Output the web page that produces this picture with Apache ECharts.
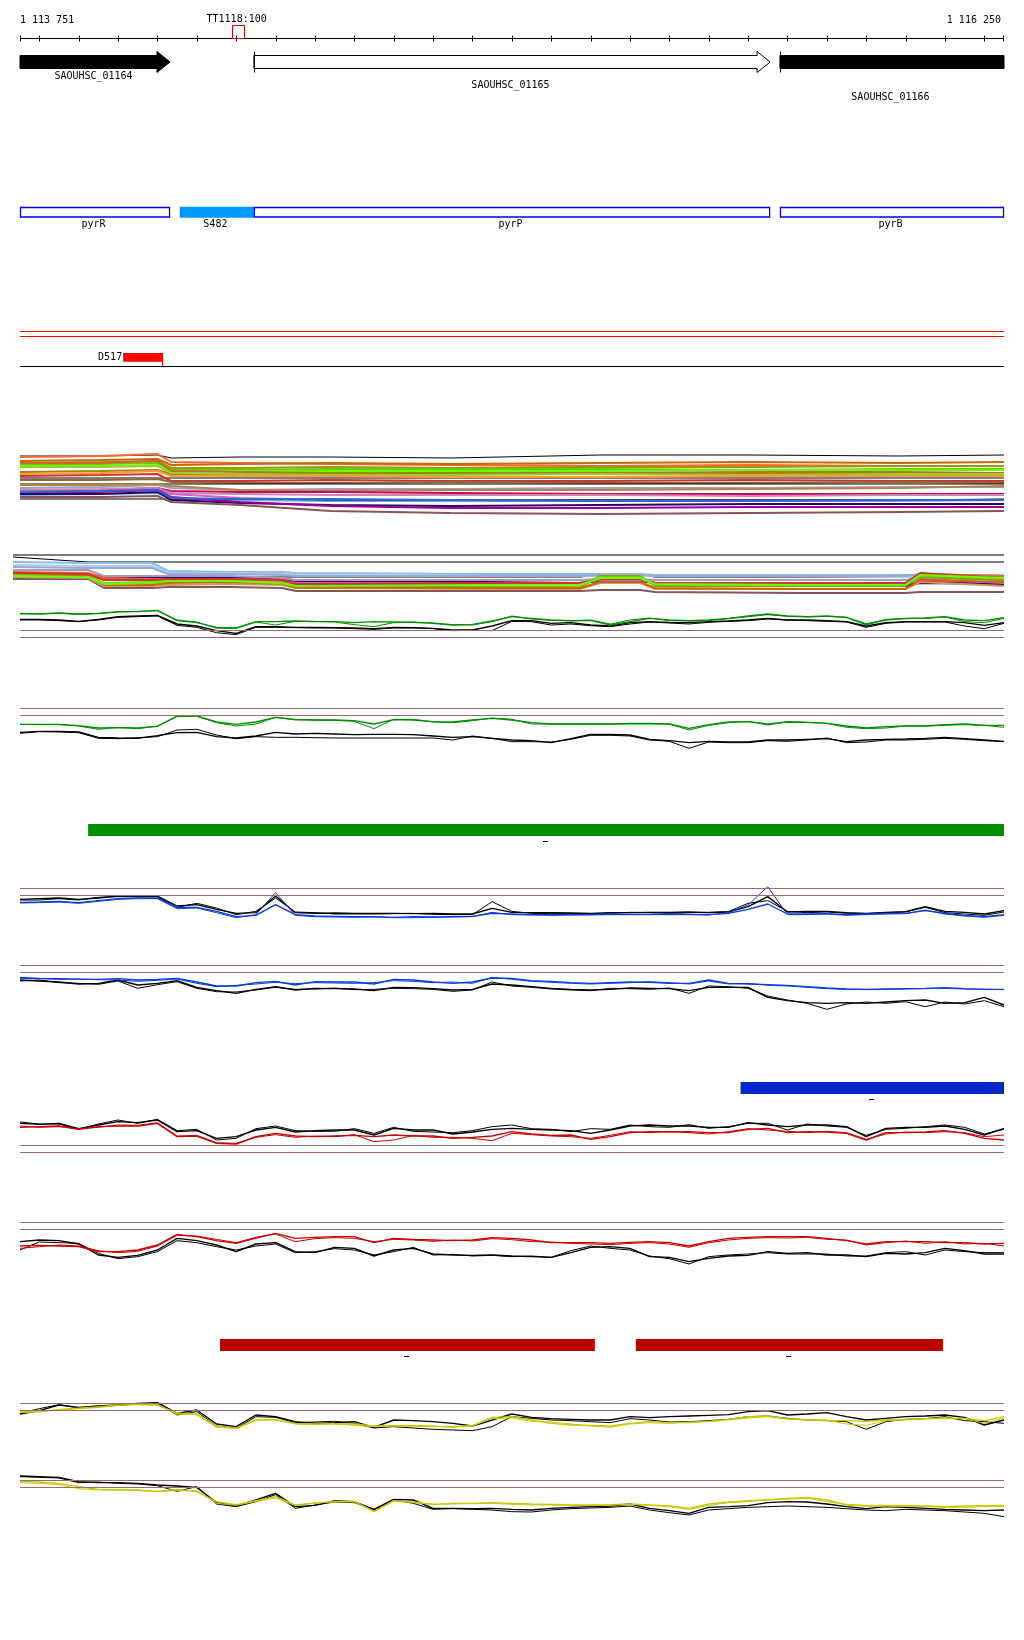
<!DOCTYPE html>
<html><head><meta charset="utf-8">
<script src="https://cdn.jsdelivr.net/npm/echarts@6/dist/echarts.min.js"></script>
<style>html,body{margin:0;padding:0;background:#fff}#c{width:1024px;height:1640px}</style>
</head><body><div id="c"></div><script>
// ---------------- data ----------------
const START = 1113751, END = 1116250;
const rulerTicks = [1113751,1113800,1113900,1114000,1114100,1114200,1114300,1114400,1114500,1114600,1114700,1114800,1114900,1115000,1115100,1115200,1115300,1115400,1115500,1115600,1115700,1115800,1115900,1116000,1116100,1116200,1116250];
const rulerLabels = ['1 113 751','1 116 250'];
const probeName = 'TT1118:100', probePos = 1114305, probeWidth = 30;

const geneNames = ['SAOUHSC_01164','SAOUHSC_01165','SAOUHSC_01166'];
const geneStarts = [1113751, 1114345, 1115681];
const geneEnds = [1114132, 1115656, 1116250];
const geneFilled = [true, false, true];

const annNames = ['pyrR','S482','pyrP','pyrB'];
const annStarts = [1113751, 1114157, 1114345, 1115681];
const annEnds = [1114132, 1114345, 1115656, 1116250];
const annFilled = [false, true, false, false];

const regionName = 'D517', regionStart = 1114013, regionEnd = 1114113;

const greenStarts = [1113924], greenEnds = [1116250];
const blueStarts = [1115581], blueEnds = [1116250];
const redStarts = [1114259, 1115315], redEnds = [1115211, 1116095];

// positions of the signal tracks (every 50 bp)
const pos50 = [1113751,1113800,1113850,1113900,1113950,1114000,1114050,1114100,1114150,1114200,
1114250,1114300,1114350,1114400,1114450,1114500,1114550,1114600,1114650,1114700,
1114750,1114800,1114850,1114900,1114950,1115000,1115050,1115100,1115150,1115200,
1115250,1115300,1115350,1115400,1115450,1115500,1115550,1115600,1115650,1115700,
1115750,1115800,1115850,1115900,1115950,1116000,1116050,1116100,1116150,1116200,1116250];

// multi-sample track 1
const mc1Pos = [1113751,1113955,1114100,1114135,1114310,1114540,1114845,1115225,1115605,1115985,1116250];
const mc1Series = [
[64,64,65,62,63,63,62,65,65,64,65],
[63,64,66,58,57,56,55,54,55,54,54],
[59,60,61,55,56,57,56,57,58,57,58],
[57,58,59,52,52,53,52,53,53,54,54],
[55,56,57,50,50,51,51,51,50,51,51],
[54,54,55,48,49,49,49,49,50,50,50],
[57,57,59,49,48,47,47,47,48,48,47],
[48,49,50,46,46,47,47,46,46,47,46],
[53,53,54,47,46,45,45,46,45,46,46],
[42,42,42,42,42,42,42,42,42,42,42],
[46,47,49,44,44,44,43,43,44,44,44],
[44,45,46,39,39,40,39,39,40,39,39],
[40,40,41,38,37,37,38,37,37,38,37],
[36,36,36,36,36,36,36,36,36,36,36],
[32,33,35,32,30,31,31,32,32,33,33],
[35,35,36,34,30,29,30,30,31,32,34],
[30,30,32,29,28,28,27,26,26,26,26],
[30,31,32,27,26,25,25,25,24,25,25],
[29,29,31,26,22,20,20,20,20,20,20],
[25,26,27,21,20,19,19,19,19,19,20],
[21,21,21,21,21,20,20,20,20,20,21],
[26,26,28,20,17,15,14,15,16,16,16],
[28,28,30,23,18,14,12,12,13,13,13],
[23,23,24,18,15,9,7,6,7,8,9],
[28,29,30,22,21,21,20,19,19,20,20]];

// multi-sample track 2
const mc2Pos = [1113733,1113924,1113964,1114086,1114127,1114284,1114416,1114452,1114919,1115173,1115224,1115326,1115364,1115732,1115999,1116037,1116250];
const mc2Series = [
[45,45,45,45,45,45,45,45,45,45,45,45,45,45,45,45,45],
[43,38,38,38,38,38,38,38,38,38,38,38,38,38,38,38,38],
[24,24,23,23,23,23,23,23,23,23,25,25,23,23,23,26,23],
[38,37,37,37,29,28,28,27,26,26,26,26,25,25,25,25,25],
[35,34,34,34,27,27,26,25,24,24,24,24,24,24,23,23,23],
[33,32,32,32,26,26,25,24,24,24,25,25,24,24,24,26,24],
[25,25,22,22,22,22,20,16,16,16,20,20,17,16,15,18,17],
[26,26,23,23,23,23,21,18,18,17,19,19,17,15,14,17,16],
[30,30,24,24,24,24,22,20,20,20,21,21,20,20,20,22,20],
[24,24,21,21,21,21,20,17,17,17,20,20,17,17,17,21,17],
[21,21,12,12,13,13,12,9,9,9,10,10,8,7,7,8,8],
[23,22,14,14,15,16,15,12,11,11,17,17,11,11,11,18,14],
[28,27,22,21,20,20,19,14,14,15,22,22,16,16,16,26,24],
[26,25,16,16,18,18,16,12,12,13,24,24,14,14,14,23,20],
[25,24,17,18,20,20,16,14,14,15,23,23,15,15,15,24,22],
[27,26,20,20,21,21,20,16,17,17,21,21,17,17,17,27,22],
[24,24,15,15,17,18,17,13,12,12,18,18,12,11,11,20,18],
[24,23,16,17,19,19,17,14,15,15,22,22,16,15,15,25,22]];

// panel 2 (green / black)
const p2Green1 = [95,93,96,93,95,100,100,104,73,67,53,51,70,70,72,70,70,67,70,69,68,65,60,62,72,85,80,75,73,74,60,70,80,75,73,75,80,87,93,87,85,87,83,63,75,80,81,85,75,73,82];
const p2Green2 = [93,94,95,92,94,99,101,103,75,69,50,50,69,60,71,71,69,61,55,67,69,66,61,60,70,87,78,74,72,75,63,75,81,73,72,73,79,85,91,86,84,86,83,60,77,79,80,84,70,67,80];
const p2Black1 = [77,77,75,71,77,85,87,89,63,57,43,35,55,55,53,53,52,51,49,53,52,50,45,45,57,73,73,65,67,60,57,67,70,68,67,70,72,75,80,75,75,73,70,57,67,70,70,70,67,59,67];
const p2Black2 = [75,75,73,70,75,83,85,87,59,53,37,31,53,53,52,51,51,49,47,51,51,49,43,44,43,71,70,60,63,58,55,63,69,66,63,68,71,73,78,75,73,71,69,53,65,69,69,69,57,49,65];
const p2Refs = [45, 23];

// panel 3 (green / black)
const p3Green1 = [101,101,101,97,90,91,90,95,126,126,108,101,108,122,116,114,114,112,102,115,114,109,108,114,119,114,106,102,102,102,102,104,104,102,89,100,108,109,102,108,107,104,96,90,94,96,96,100,102,98,98];
const p3Green2 = [101,100,100,96,86,92,88,96,124,126,106,96,102,122,114,114,113,110,88,116,116,108,106,112,120,116,102,102,101,102,102,102,102,102,84,98,106,110,99,109,107,104,92,88,90,96,96,98,100,98,92];
const p3Black1 = [77,80,80,78,62,60,59,67,76,77,64,60,66,77,72,74,72,70,71,71,70,66,62,64,59,54,52,46,58,71,71,69,56,52,46,50,48,48,54,54,56,58,49,54,56,57,59,62,58,54,50];
const p3Black2 = [74,79,78,76,59,58,61,64,84,86,69,58,64,62,62,61,60,60,60,60,60,60,54,66,59,49,49,48,56,68,68,66,54,50,29,48,46,46,52,50,54,60,46,48,54,54,56,59,56,52,49];
const p3Refs = [150, 128];

// panel 4 (blue / black)
const p4Black1 = [77,79,81,77,81,87,87,87,57,61,47,35,37,87,37,35,36,35,35,35,34,35,33,33,50,38,37,37,36,35,37,37,38,38,39,37,39,55,85,39,41,41,37,35,38,40,55,41,38,33,43];
const p4Black2 = [75,75,79,75,83,85,85,85,53,65,51,31,41,81,39,37,33,33,33,34,35,32,31,31,70,41,35,34,34,34,35,38,37,35,37,38,40,65,73,41,37,39,35,34,37,39,53,37,33,29,39];
const p4Blue1 = [68,69,71,67,73,79,81,81,53,53,41,25,29,61,31,27,26,25,25,23,25,24,25,26,35,33,31,31,31,32,33,32,32,33,32,31,35,47,63,33,33,34,31,33,35,35,43,35,29,25,31];
const p4Blue2 = [66,67,69,65,71,77,79,79,49,51,37,22,31,97,29,25,24,23,24,22,22,23,24,25,38,31,30,29,30,30,31,31,31,31,31,30,37,60,115,31,31,33,29,31,33,34,45,33,27,23,29];
const p4Refs = [110, 89];

// panel 5 (blue / black)
const p5Blue1 = [113,110,109,107,107,109,105,107,110,99,87,87,97,101,90,100,99,99,93,107,105,99,95,99,111,110,103,101,97,95,97,99,98,95,95,105,95,93,91,89,85,81,78,77,78,79,80,82,79,77,77];
const p5Blue2 = [110,109,107,108,106,105,101,104,108,95,85,89,93,98,94,97,96,95,97,103,101,97,99,95,113,107,101,98,95,93,95,97,100,97,93,102,93,95,89,87,83,79,77,76,77,78,79,80,78,77,76];
const p5Black1 = [105,102,99,93,95,105,90,95,103,83,73,65,77,85,75,80,79,78,73,83,82,79,75,77,93,90,85,80,77,75,77,81,80,79,73,83,83,83,53,43,37,35,37,35,39,43,45,35,37,53,30];
const p5Black2 = [102,105,97,95,92,102,80,91,100,80,70,69,75,83,77,78,81,76,77,80,79,77,71,75,99,87,83,78,75,73,80,79,77,81,65,87,85,80,57,45,35,17,33,39,35,40,25,39,33,43,25];
const p5Refs = [149, 128];

// panel 6 (red / black)
const p6Black1 = [110,107,110,94,105,115,112,120,85,88,65,70,90,98,84,88,90,90,75,95,90,90,78,84,92,95,92,90,88,80,90,102,105,102,102,98,98,112,105,100,105,105,100,70,95,98,98,102,92,75,95];
const p6Black2 = [114,108,108,92,108,120,110,122,88,92,60,65,94,102,88,86,86,94,80,98,86,84,82,88,100,105,94,92,85,94,92,105,100,98,106,95,100,110,110,90,108,102,98,74,92,95,100,105,98,78,92];
const p6Red1 = [98,100,102,92,100,102,102,110,70,72,50,48,70,80,72,70,72,74,70,75,72,72,65,68,72,85,78,74,75,62,70,82,85,84,85,82,82,92,95,82,85,84,80,60,82,82,84,88,80,65,60];
const p6Red2 = [102,98,100,94,98,105,104,112,72,74,52,50,68,76,68,72,70,76,55,60,74,68,68,65,58,80,76,72,70,65,74,85,82,86,82,78,85,94,90,86,82,86,82,62,78,84,82,85,82,70,75];
const p6Refs = [44, 23];

// panel 7 (red / black)
const p7Black1 = [85,90,88,78,45,38,44,60,95,88,75,55,78,82,55,52,68,65,42,60,65,48,45,44,45,42,40,38,52,68,70,65,40,38,25,35,42,44,55,50,52,45,45,40,50,48,52,65,58,48,48];
const p7Black2 = [60,84,82,80,50,34,40,55,88,82,70,60,72,78,52,55,64,60,45,55,68,45,47,42,44,40,42,38,58,72,65,60,42,34,18,40,45,48,52,48,48,48,42,42,52,55,45,60,55,52,52];
const p7Red1 = [72,74,72,70,55,55,60,75,107,100,88,80,96,110,95,98,100,100,82,95,92,90,88,90,97,95,90,82,82,82,80,83,85,82,72,85,95,98,100,100,100,95,88,78,85,85,85,82,82,78,80];
const p7Red2 = [65,70,75,72,58,52,56,72,104,102,92,82,98,108,85,94,97,95,85,92,90,86,90,87,94,91,85,84,80,78,76,80,82,78,68,82,90,95,97,96,98,92,90,75,82,87,80,85,78,80,72];
const p7Refs = [144, 122];

// panel 8 (yellow / black)
const p8Black1 = [78,88,105,98,102,105,110,112,80,90,48,40,75,70,55,50,52,55,38,60,58,55,50,42,60,78,68,64,62,60,60,70,67,70,72,74,76,85,88,75,78,82,70,60,65,70,72,75,68,45,60];
const p8Black2 = [80,94,106,96,100,104,108,110,75,85,42,35,70,68,52,54,56,50,36,40,36,32,30,28,40,70,65,60,58,55,52,64,60,54,55,58,62,70,72,65,60,58,55,32,55,62,64,70,58,55,50];
const p8Yellow1 = [84,86,90,94,98,104,107,106,78,78,42,34,60,60,50,48,48,48,42,42,42,40,40,42,68,70,60,50,45,44,42,50,55,52,52,56,62,70,72,64,60,58,58,56,60,62,64,66,65,58,70];
const p8Yellow2 = [82,84,92,96,100,105,106,104,82,75,38,36,62,62,48,46,50,44,40,44,44,42,38,44,64,66,56,54,48,42,38,48,52,50,54,55,60,66,70,62,62,60,48,44,58,60,63,64,64,50,65];
const p8Refs = [110, 89];

// panel 9 (yellow / black)
const p9Black1 = [147,145,143,130,127,127,125,120,117,113,67,57,75,95,55,59,73,70,47,77,75,50,50,49,50,47,45,50,53,55,57,63,50,43,35,53,55,58,67,70,69,63,55,49,55,53,50,47,45,43,45];
const p9Black2 = [145,143,141,127,129,125,123,118,101,115,63,55,70,91,50,60,69,67,45,75,65,47,49,47,45,40,39,45,49,51,53,57,45,37,30,45,49,53,55,57,55,53,49,45,43,47,45,43,39,35,25];
const p9Yellow1 = [131,129,125,115,107,105,105,101,107,100,70,61,73,85,60,65,71,71,41,73,69,61,65,65,67,65,63,62,60,60,61,63,60,57,50,63,69,73,75,80,83,75,60,57,57,57,57,55,57,58,59];
const p9Yellow2 = [127,125,121,109,105,105,103,100,103,103,65,59,71,81,59,67,69,69,40,71,67,63,63,64,65,62,60,60,59,58,59,62,59,55,47,59,67,70,77,77,80,70,62,59,59,59,55,53,53,55,55];
const p9Refs = [134, 113];

// ---------------- styles / layout ----------------
const FONT = '10px "DejaVu Sans Mono", "Liberation Mono", monospace';
const BROWN = '#9c6a6a';
const GREEN = '#008f00', BLUE = '#0a3cdc', RED = '#cc0000', YELLOW = '#c8c800';
const mc1Colors = ['#000000','#ff6633','#cc6600','#999900','#66cc00','#66ff00','#cc6633','#998800','#99cc33','#000000','#ff9933','#cc3333','#996633','#000000','#aa99bb','#aa8844','#cc0066','#cc88aa','#cc66cc','#66aaee','#000000','#330066','#990099','#885555','#3366cc'];
const mc2Colors = ['#000000','#000000','#000000','#88bbee','#aaccff','#99aacc','#990099','#330066','#aa99bb','#cc66cc','#885555','#cc9966','#ff6633','#999900','#66cc00','#cc3333','#cc6600','#66ff00'];
const GENE_LABEL_DY = [28.5, 37, 49.5];

const grids = [], xAxes = [], yAxes = [], series = [];
function addGrid(top, height, ymax, left, xmin) {
  const gi = grids.length;
  grids.push({left: left == null ? 20 : left, right: 20, top, height, show: false});
  xAxes.push({gridIndex: gi, type: 'value', min: xmin == null ? START : xmin, max: END, show: false});
  yAxes.push({gridIndex: gi, type: 'value', min: 0, max: ymax, show: false});
  return gi;
}
function addCustom(gi, data, renderItem) {
  series.push({type: 'custom', xAxisIndex: gi, yAxisIndex: gi, data, renderItem, silent: true, animation: false, z: 3});
}
function addLine(gi, xs, ys, color, width, refs) {
  const s = {type: 'line', xAxisIndex: gi, yAxisIndex: gi, data: xs.map((x, k) => [x, ys[k]]),
    symbol: 'none', showSymbol: false, lineStyle: {color, width}, itemStyle: {color},
    silent: true, animation: false, clip: true, z: 2};
  if (refs) s.markLine = {silent: true, symbol: ['none', 'none'], label: {show: false}, animation: false,
    lineStyle: {color: BROWN, width: 1, type: 'solid'}, emphasis: {disabled: true},
    data: refs.map(v => ({yAxis: v}))};
  series.push(s);
}
function txt(x, y, text, align) {
  return {type: 'text', x, y, style: {text, align: align || 'center', verticalAlign: 'middle', font: FONT, fill: '#000'}};
}
function hline(x1, x2, y, color, w) {
  return {type: 'line', shape: {x1, y1: y, x2, y2: y}, style: {stroke: color, lineWidth: w || 1}};
}

// ruler
const gR = addGrid(10, 40, 1);
addCustom(gR, [[START, END]], (p, api) => {
  const cs = p.coordSys;
  const x0 = api.coord([api.value(0), 0])[0], x1 = api.coord([api.value(1), 0])[0];
  return {type: 'group', children: [
    hline(x0, x1, cs.y + 28.5, '#000'),
    txt(x0, cs.y + 10, rulerLabels[0], 'left'),
    txt(x1 - 3, cs.y + 10, rulerLabels[1], 'right')
  ]};
});
addCustom(gR, rulerTicks.map(t => [t, 0]), (p, api) => {
  const cs = p.coordSys;
  let x = Math.round(api.coord([api.value(0), 0])[0]) + 0.5;
  x = Math.min(Math.max(x, cs.x + 0.5), cs.x + cs.width - 0.5);
  return {type: 'line', shape: {x1: x, y1: cs.y + 25.5, x2: x, y2: cs.y + 31.5}, style: {stroke: '#000', lineWidth: 1}};
});
addCustom(gR, [[probePos, 0]], (p, api) => {
  const cs = p.coordSys;
  const x = api.coord([api.value(0), 0])[0];
  const w = api.size([probeWidth, 0])[0];
  return {type: 'group', children: [
    {type: 'rect', shape: {x: Math.round(x - w / 2) + 0.5, y: cs.y + 15.5, width: Math.round(w), height: 13}, style: {fill: 'none', stroke: '#cc0000', lineWidth: 1}},
    txt(x - 1.5, cs.y + 9, probeName)
  ]};
});

// genes
const gG = addGrid(48, 60, 1);
addCustom(gG, geneNames.map((n, i) => [geneStarts[i], geneEnds[i], i]), (p, api) => {
  const cs = p.coordSys, i = api.value(2), s = api.value(0), e = api.value(1);
  let x0 = Math.max(api.coord([s, 0])[0], cs.x), x1 = Math.min(api.coord([e, 0])[0], cs.x + cs.width);
  const bt = cs.y + 7.5, bb = cs.y + 20.5, ht = cs.y + 3.5, hb = cs.y + 24.5, yc = cs.y + 14;
  const head = e < END ? 13 : 0;
  const pts = head ? [[x0, bt], [x1 - head, bt], [x1 - head, ht], [x1, yc], [x1 - head, hb], [x1 - head, bb], [x0, bb]]
                   : [[x0, bt], [x1, bt], [x1, bb], [x0, bb]];
  const kids = [{type: 'polygon', shape: {points: pts}, style: {fill: geneFilled[i] ? '#000' : '#fff', stroke: '#000', lineWidth: 1}}];
  if (s > START) kids.push({type: 'line', shape: {x1: Math.round(x0) + 0.5, y1: ht, x2: Math.round(x0) + 0.5, y2: hb}, style: {stroke: '#000', lineWidth: 1}});
  kids.push(txt((x0 + x1) / 2 - 1.5, cs.y + GENE_LABEL_DY[i], geneNames[i]));
  return {type: 'group', children: kids};
});

// annotations
const gA = addGrid(200, 30, 1);
addCustom(gA, annNames.map((n, i) => [annStarts[i], annEnds[i], i]), (p, api) => {
  const cs = p.coordSys, i = api.value(2);
  const x0 = Math.max(api.coord([api.value(0), 0])[0], cs.x), x1 = Math.min(api.coord([api.value(1), 0])[0], cs.x + cs.width);
  const filled = annFilled[i];
  return {type: 'group', children: [
    {type: 'rect', shape: {x: x0 + 0.5, y: cs.y + 7.5, width: x1 - x0 - 1, height: 9.5},
      style: {fill: filled ? '#0099ff' : 'none', stroke: filled ? '#0099ff' : '#0000ee', lineWidth: 1.3}},
    txt((x0 + x1) / 2 - 1.5, cs.y + 24.5, annNames[i])
  ]};
});

// D517 region track
const gD = addGrid(325, 45, 1);
addCustom(gD, [[START, END]], (p, api) => {
  const cs = p.coordSys;
  const x0 = api.coord([api.value(0), 0])[0], x1 = api.coord([api.value(1), 0])[0];
  return {type: 'group', children: [
    hline(x0, x1, cs.y + 6.5, '#ff0000'),
    hline(x0, x1, cs.y + 11.5, '#ff0000'),
    hline(x0, x1, cs.y + 41.5, '#000')
  ]};
});
addCustom(gD, [[regionStart, regionEnd]], (p, api) => {
  const cs = p.coordSys;
  const x0 = api.coord([api.value(0), 0])[0], x1 = api.coord([api.value(1), 0])[0];
  return {type: 'group', children: [
    {type: 'rect', shape: {x: x0, y: cs.y + 28, width: x1 - x0, height: 8.7}, style: {fill: '#ff0000'}},
    {type: 'line', shape: {x1: Math.round(x1) - 0.5, y1: cs.y + 28, x2: Math.round(x1) - 0.5, y2: cs.y + 41}, style: {stroke: '#ff0000', lineWidth: 1}},
    txt(x0 - 1, cs.y + 32.5, regionName, 'right')
  ]};
});

// multi-sample tracks
const gM1 = addGrid(450, 70, 70);
mc1Series.forEach((vals, k) => addLine(gM1, mc1Pos, vals, mc1Colors[k], mc1Colors[k] === '#000000' ? 1 : 2));
const gM2 = addGrid(550, 50, 50, 13, 1113733);
mc2Series.forEach((vals, k) => addLine(gM2, mc2Pos, vals, mc2Colors[k], mc2Colors[k] === '#000000' ? 1.2 : 2));

// signal panels
function panel(top, height, lines, refs) {
  const gi = addGrid(top, height, height * 3);
  lines.forEach((l, k) => addLine(gi, pos50, l[0], l[1], l[2], k === 0 ? refs : null));
}
panel(605, 40, [[p2Black1, '#000', 1.4], [p2Black2, '#000', 1], [p2Green1, GREEN, 1.4], [p2Green2, GREEN, 1]], p2Refs);
panel(703, 55, [[p3Black1, '#000', 1.4], [p3Black2, '#000', 1], [p3Green1, GREEN, 1.4], [p3Green2, GREEN, 1]], p3Refs);
panel(880, 45, [[p4Black1, '#000', 1.4], [p4Black2, '#000', 1], [p4Blue1, BLUE, 1.4], [p4Blue2, BLUE, 1]], p4Refs);
panel(955, 60, [[p5Black1, '#000', 1.4], [p5Black2, '#000', 1], [p5Blue1, BLUE, 1.4], [p5Blue2, BLUE, 1]], p5Refs);
panel(1110, 50, [[p6Black1, '#000', 1.4], [p6Black2, '#000', 1], [p6Red1, RED, 1.4], [p6Red2, RED, 1]], p6Refs);
panel(1215, 55, [[p7Black1, '#000', 1.4], [p7Black2, '#000', 1], [p7Red1, RED, 1.4], [p7Red2, RED, 1]], p7Refs);
panel(1395, 45, [[p8Black1, '#000', 1.4], [p8Black2, '#000', 1], [p8Yellow1, YELLOW, 1.4], [p8Yellow2, YELLOW, 1]], p8Refs);
panel(1470, 55, [[p9Black1, '#000', 1.4], [p9Black2, '#000', 1], [p9Yellow1, YELLOW, 1.4], [p9Yellow2, YELLOW, 1]], p9Refs);

// bar tracks (with strand mark below)
function barTrack(top, starts, ends, color) {
  const gi = addGrid(top, 35, 1);
  addCustom(gi, starts.map((s, i) => [s, ends[i]]), (p, api) => {
    const cs = p.coordSys;
    const x0 = Math.max(api.coord([api.value(0), 0])[0], cs.x), x1 = Math.min(api.coord([api.value(1), 0])[0], cs.x + cs.width);
    const xm = Math.round((x0 + x1) / 2);
    return {type: 'group', children: [
      {type: 'rect', shape: {x: x0, y: cs.y + 9, width: x1 - x0, height: 12}, style: {fill: color}},
      {type: 'line', shape: {x1: xm - 3, y1: cs.y + 26.5, x2: xm + 2, y2: cs.y + 26.5}, style: {stroke: '#000', lineWidth: 1}}
    ]};
  });
}
barTrack(815, greenStarts, greenEnds, '#008f00');
barTrack(1073, blueStarts, blueEnds, '#0028c8');
barTrack(1330, redStarts, redEnds, '#bb0000');

const chart = echarts.init(document.getElementById('c'), null, {renderer: 'canvas'});
chart.setOption({backgroundColor: '#fff', animation: false, grid: grids, xAxis: xAxes, yAxis: yAxes, series});
</script></body></html>
